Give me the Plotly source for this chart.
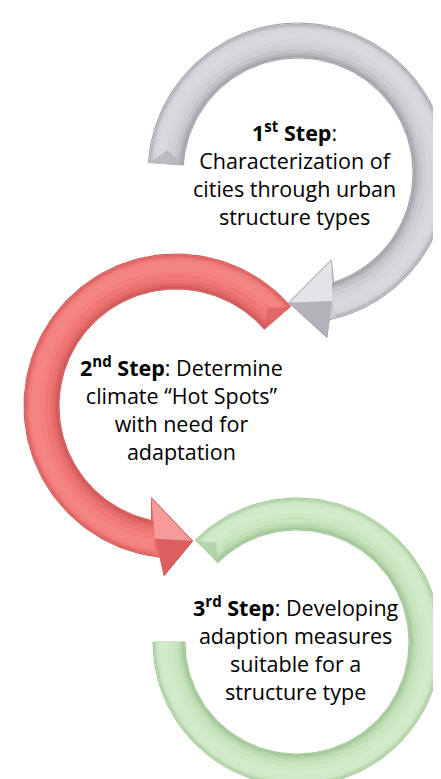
import numpy as np
import plotly.graph_objects as go

# ---- content ----
step_lines = [
    ["<b>1<sup>st</sup> Step</b>:", "Characterization of", "cities through urban", "structure types"],
    ["<b>2<sup>nd</sup> Step</b>: Determine", "climate “Hot Spots”", "with need for", "adaptation"],
    ["<b>3<sup>rd</sup> Step</b>: Developing", "adaption measures", "suitable for a", "structure type"],
]

# ---- geometry (pixel space, y downward) ----
centers = [(290, 165), (168, 398), (289, 634)]
r_inner = [115, 117, 112]
r_outer = [150, 152, 144]
start_ang = [176, 41, 135]
end_in = [-72, 258, -180]
end_out = [-78, 264, -180]
has_head = [True, True, False]
tip = [(-94, 130), (277, 136), None]        # (angle, radius)
barb_in = [(-69, 93), (255, 95), None]
barb_out = [(-80, 167), (266, 170), None]
text_center = [(286, 165), (173, 400), (288, 640)]

body = [(203, 203, 208), (240, 114, 114), (198, 227, 188)]
edge = [(160, 160, 166), (205, 88, 88), (160, 196, 148)]
light = [(222, 222, 226), (246, 140, 140), (216, 237, 208)]
facet_dark = ["#B2B2B8", "#DC6060", "#AACE9E"]
facet_light = ["#E4E4E8", "#F79A9A", "#E0F0DA"]

# radial profile: (fraction from inner to outer, weight of edge, weight of light)
profile = [(0.00, 0.9, 0.0), (0.06, 0.5, 0.0), (0.14, 0.15, 0.0), (0.25, 0.0, 0.2),
           (0.40, 0.0, 0.5), (0.55, 0.0, 0.75), (0.70, 0.0, 0.7), (0.82, 0.0, 0.45),
           (0.90, 0.15, 0.1), (0.95, 0.5, 0.0)]


def mix(i, we, wl):
    b, e, l = np.array(body[i]), np.array(edge[i]), np.array(light[i])
    col = b * (1 - we - wl) + e * we + l * wl
    return "rgb(%d,%d,%d)" % tuple(np.clip(col, 0, 255).astype(int))


def pt(c, ang, r):
    a = np.deg2rad(ang)
    return c[0] + r * np.cos(a), c[1] - r * np.sin(a)


def arc(c, r, a0, a1, n=140):
    angs = np.linspace(a0, a1, n)
    return [pt(c, a, r) for a in angs]


def band(c, r1, r2, a0, a1):
    pts = arc(c, r2, a0, a1) + arc(c, r1, a1, a0)
    pts.append(pts[0])
    return pts


def add_poly(fig, pts, color, line_color=None, lw=0, opacity=1.0):
    fig.add_trace(go.Scatter(
        x=[p[0] for p in pts], y=[p[1] for p in pts], mode="lines",
        fill="toself", fillcolor=color,
        line=dict(color=line_color or color, width=lw),
        opacity=opacity, hoverinfo="skip", showlegend=False))


fig = go.Figure()

for i in [2, 1, 0]:
    c = centers[i]
    ri, ro = r_inner[i], r_outer[i]
    a0 = start_ang[i]
    ei, eo = end_in[i], end_out[i]
    em = (ei + eo) / 2
    ecol = "rgb(%d,%d,%d)" % edge[i]
    # outline polygon
    pts = arc(c, ro, a0, eo)
    if has_head[i]:
        pts += [pt(c, *barb_out[i]), pt(c, *tip[i]), pt(c, *barb_in[i])]
    pts += arc(c, ri, ei, a0)
    pts.append(pts[0])
    add_poly(fig, pts, "rgb(%d,%d,%d)" % body[i], ecol, 1.0)
    # gradient bands (cumulative, inner to outer)
    for f, we, wl in profile:
        r1 = ri + 0.8 + f * (ro - ri - 1.6)
        add_poly(fig, band(c, r1, ro - 0.8, a0, em), mix(i, we, wl))
    # arrowhead facets
    if has_head[i]:
        mid_base = pt(c, em, (ri + ro) / 2)
        t = pt(c, *tip[i])
        add_poly(fig, [pt(c, *barb_in[i]), t, mid_base, pt(c, *barb_in[i])], facet_light[i])
        add_poly(fig, [pt(c, *barb_out[i]), t, mid_base, pt(c, *barb_out[i])], facet_dark[i])
        add_poly(fig, [pt(c, *barb_out[i]), t, pt(c, *barb_in[i])], "rgba(0,0,0,0)", ecol, 0.8)
    # tail facet (beveled end)
    step = -6 if ei < a0 else 6
    p_out = pt(c, a0, ro - 1)
    p_in = pt(c, a0, ri + 1)
    p_mid = pt(c, a0 + step, (ri + ro) / 2)
    add_poly(fig, [p_out, p_in, p_mid, p_out], facet_dark[i], opacity=0.75)

for i, lines in enumerate(step_lines):
    fig.add_annotation(
        x=text_center[i][0], y=text_center[i][1], xref="x", yref="y",
        text="<br>".join(lines), showarrow=False, align="center",
        xanchor="center", yanchor="middle",
        font=dict(family="Open Sans", size=21.5, color="#000000"))

fig.update_layout(
    width=441, height=779,
    margin=dict(l=0, r=0, t=0, b=0),
    paper_bgcolor="white", plot_bgcolor="white",
    xaxis=dict(range=[0, 441], visible=False, fixedrange=True),
    yaxis=dict(range=[779, 0], visible=False, fixedrange=True),
    showlegend=False,
)

fig.write_html("out.html")
